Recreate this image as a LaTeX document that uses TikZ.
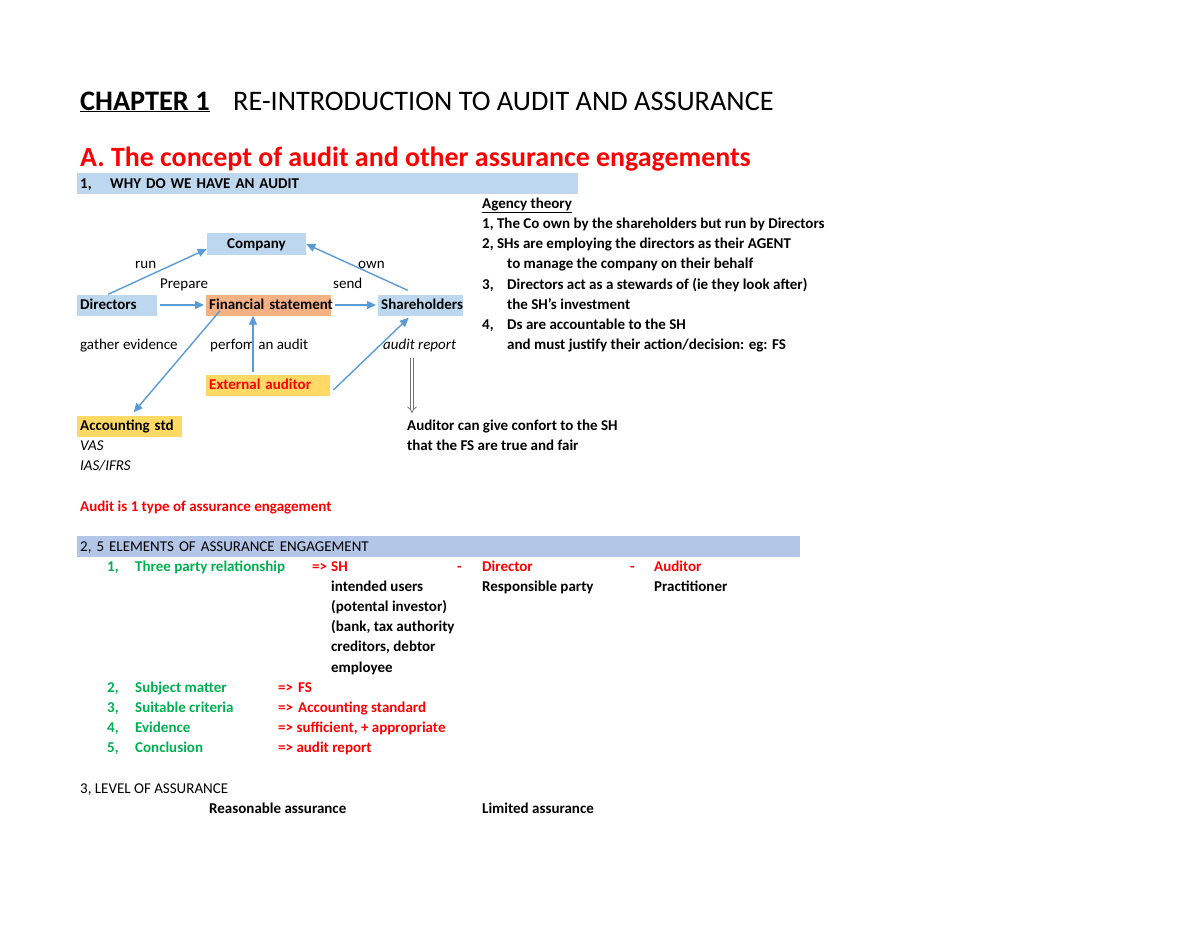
\documentclass[tikz,border=0pt]{standalone}
\usepackage{fontspec}
\setmainfont{Carlito}
\usetikzlibrary{arrows.meta}
\definecolor{cellblue}{HTML}{BDD7EE}
\definecolor{barblue}{HTML}{B4C6E7}
\definecolor{cellorange}{HTML}{F4B183}
\definecolor{cellyellow}{HTML}{FFD966}
\definecolor{arrowblue}{HTML}{5B9BD5}
\definecolor{xlgreen}{HTML}{00B050}
\definecolor{xlred}{HTML}{FF0000}
\hfuzz=30pt
\begin{document}
\begin{tikzpicture}[x=1pt,y=-1pt,
    lbl/.style={anchor=base west, inner sep=0pt, font=\fontsize{15}{18}\selectfont\bfseries},
    lblr/.style={lbl, font=\fontsize{15}{18}\selectfont},
    lbli/.style={lbl, font=\fontsize{15}{18}\selectfont\itshape},
    cell/.style={anchor=west, inner xsep=3pt, inner ysep=0pt, minimum height=21pt,
        text height=9pt, text depth=0pt, align=left, font=\fontsize{15}{18}\selectfont\bfseries},
    link/.style={draw=arrowblue, line width=1.4pt, -{Triangle[length=9pt,width=8pt]}}]
    \useasboundingbox[fill=white] (0,0) rectangle (1200,927);
    % heading
    \node[anchor=base west, inner sep=0pt, font=\fontsize{28.3}{32}\selectfont\bfseries] (chap) at (80,110) {\underline{CHAPTER 1}};
    \node[anchor=base west, inner sep=0pt, font=\fontsize{28.3}{32}\selectfont] (intro) at (233,110) {RE-INTRODUCTION TO AUDIT AND ASSURANCE};
    \node[anchor=base west, inner sep=0pt, font=\fontsize{27.9}{32}\selectfont\bfseries, text=xlred] (concept) at (80,166) {A. The concept of audit and other assurance engagements};
    % part 1
    \node[cell, fill=cellblue, text width=495pt] (bar1) at (77,183.5) {\makebox[30pt][l]{1,}WHY DO WE HAVE AN AUDIT};
    \node[cell, fill=cellblue, anchor=center, align=center, minimum width=99pt, minimum height=22pt] (co) at (256.5,244) {Company};
    \node[cell, fill=cellblue, text width=74pt] (dir) at (77,305) {Directors};
    \node[cell, fill=cellorange, text width=119pt] (fs) at (206,305) {\mbox{Financial statement}};
    \node[cell, fill=cellblue, text width=79pt] (sh) at (378,305) {\mbox{Shareholders}};
    \node[cell, fill=cellyellow, text width=118pt, text=xlred] (ext) at (206,385) {\mbox{External auditor}};
    \node[cell, fill=cellyellow, text width=99pt] (acc) at (77,426) {\mbox{Accounting std}};
    \node[lblr] (run) at (135,268.5) {run};
    \node[lblr] (own) at (358,268.5) {own};
    \node[lblr] (prep) at (160,288.5) {Prepare};
    \node[lblr] (send) at (333,288.5) {send};
    \node[lblr] (gath) at (80,349.5) {gather evidence};
    \node[lblr] (perf) at (210,349.5) {perfom an audit};
    \node[lbli] (rep) at (383,349.5) {audit report};
    \node[lbli] (vas) at (80,450.5) {VAS};
    \node[lbli] (ias) at (80,470.5) {IAS/IFRS};
    \node[lbl] (cf1) at (407,430.5) {Auditor can give confort to the SH};
    \node[lbl] (cf2) at (407,450.5) {that the FS are true and fair};
    \node[lbl, text=xlred] (type) at (80,511.5) {Audit is 1 type of assurance engagement};
    \draw[link] ([xshift=-9pt]dir.north) -- ([yshift=-5pt]co.west);
    \draw[link] ([xshift=-13pt,yshift=4pt]sh.north) -- (co.east);
    \draw[link, shorten <=3pt, shorten >=2pt] (dir) -- (fs);
    \draw[link, shorten <=4pt, shorten >=2pt] (fs) -- (sh);
    \draw[link] ([xshift=14pt,yshift=5pt]fs.south west) -- ([xshift=4pt,yshift=3pt]acc.north);
    \draw[link] ([xshift=47pt,yshift=2pt]ext.north west) -- ([xshift=47pt]fs.south west);
    \draw[link] ([xshift=3pt,yshift=-5pt]ext.east) -- ([xshift=-12pt,yshift=-2pt]sh.south);
    \coordinate (dtop) at (412,358);
    \coordinate (dbot) at (412,413);
    \draw[draw=black!55, double=white, double distance=2.5pt, line width=0.8pt, -{Implies}] (dtop) -- (dbot);
    % agency theory
    \node[lbl] (ag) at (482,208.5) {\underline{Agency theory}};
    \node[lbl] (ag1) at (482,228.5) {1, The Co own by the shareholders but run by Directors};
    \node[lbl] (ag2) at (482,248.5) {2, SHs are employing the directors as their AGENT};
    \node[lbl] (ag2b) at (507,268.5) {to manage the company on their behalf};
    \node[lbl] (ag3n) at (482,289.5) {3,};
    \node[lbl] (ag3) at (507,289.5) {Directors act as a stewards of (ie they look after)};
    \node[lbl] (ag3b) at (507,309.5) {the SH's investment};
    \node[lbl] (ag4n) at (482,329.5) {4,};
    \node[lbl] (ag4) at (507,329.5) {Ds are accountable to the SH};
    \node[lbl] (ag4b) at (507,349.5) {and must justify their action/decision: eg: FS};
    % part 2
    \node[cell, fill=barblue, text width=717pt, font=\fontsize{15}{18}\selectfont] (bar2) at (77,546.5) {2, 5 ELEMENTS OF ASSURANCE ENGAGEMENT};
    \node[lbl, text=xlgreen] (e1n) at (107,571.5) {1,};
    \node[lbl, text=xlgreen] (e1) at (135,571.5) {Three party relationship};
    \node[lbl, text=xlred] (e1a) at (312,571.5) {=>};
    \node[lbl, text=xlred] (shp) at (331,571.5) {SH};
    \node[lbl, text=xlred] (d1) at (457,571.5) {-};
    \node[lbl, text=xlred] (dirp) at (482,571.5) {Director};
    \node[lbl, text=xlred] (d2) at (630,571.5) {-};
    \node[lbl, text=xlred] (audp) at (654,571.5) {Auditor};
    \node[lbl] (u1) at (331,591.5) {intended users};
    \node[lbl] (u2) at (331,611.5) {(potental investor)};
    \node[lbl] (u3) at (331,631.5) {(bank, tax authority};
    \node[lbl] (u4) at (331,651.5) {creditors, debtor};
    \node[lbl] (u5) at (331,672.5) {employee};
    \node[lbl] (resp) at (482,591.5) {Responsible party};
    \node[lbl] (prac) at (654,591.5) {Practitioner};
    \node[lbl, text=xlgreen] (e2n) at (107,692.5) {2,};
    \node[lbl, text=xlgreen] (e2) at (135,692.5) {Subject matter};
    \node[lbl, text=xlred] (e2a) at (278,692.5) {=>};
    \node[lbl, text=xlred] (e2v) at (298,692.5) {FS};
    \node[lbl, text=xlgreen] (e3n) at (107,712.5) {3,};
    \node[lbl, text=xlgreen] (e3) at (135,712.5) {Suitable criteria};
    \node[lbl, text=xlred] (e3a) at (278,712.5) {=>};
    \node[lbl, text=xlred] (e3v) at (298,712.5) {Accounting standard};
    \node[lbl, text=xlgreen] (e4n) at (107,732.5) {4,};
    \node[lbl, text=xlgreen] (e4) at (135,732.5) {Evidence};
    \node[lbl, text=xlred] (e4v) at (278,732.5) {=> sufficient, + appropriate};
    \node[lbl, text=xlgreen] (e5n) at (107,752.5) {5,};
    \node[lbl, text=xlgreen] (e5) at (135,752.5) {Conclusion};
    \node[lbl, text=xlred] (e5v) at (278,752.5) {=> audit report};
    % part 3
    \node[lblr] (lev) at (80,793.5) {3, LEVEL OF ASSURANCE};
    \node[lbl] (reas) at (209,813.5) {Reasonable assurance};
    \node[lbl] (lim) at (482,813.5) {Limited assurance};
\end{tikzpicture}
\end{document}
